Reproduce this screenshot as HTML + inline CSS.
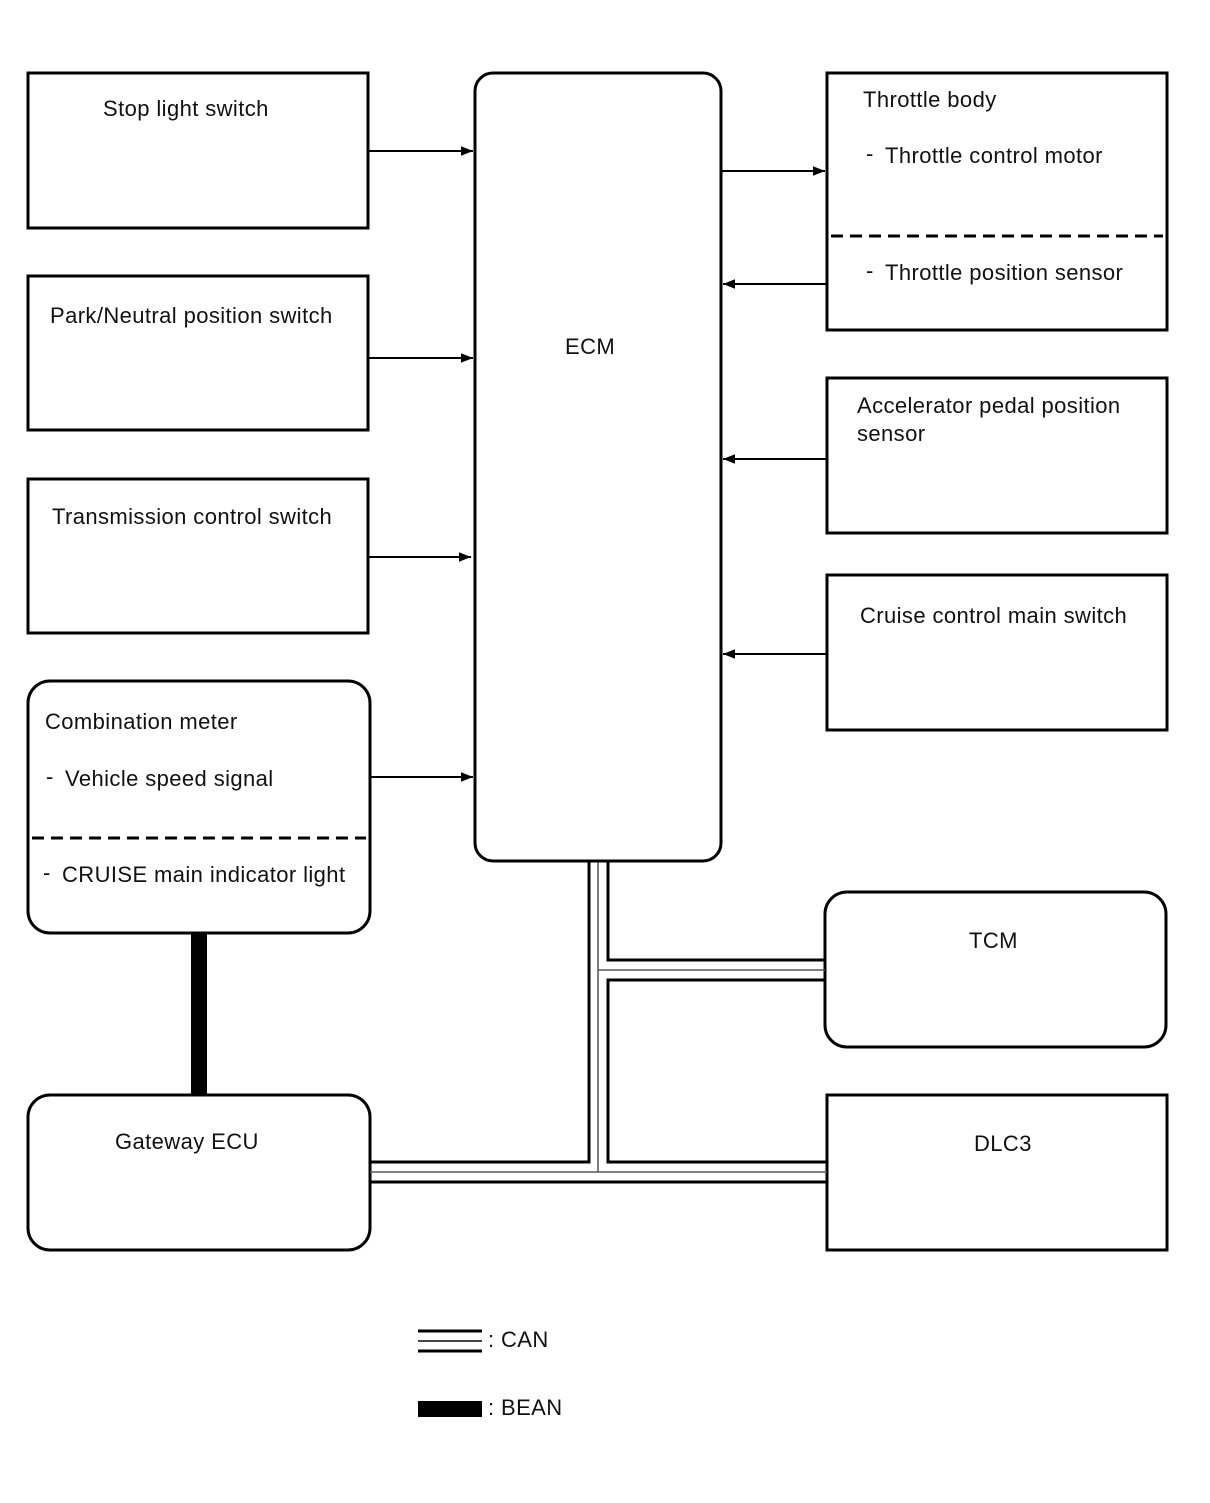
<!DOCTYPE html>
<html><head><meta charset="utf-8"><style>
body{margin:0;background:#fff;}
svg text{font-family:"Liberation Sans",Arial,sans-serif;font-size:22px;letter-spacing:0.4px;fill:#111;}
</style></head><body>
<svg width="1210" height="1498" viewBox="0 0 1210 1498" xmlns="http://www.w3.org/2000/svg">
<defs><marker id="a" viewBox="0 0 10 10" refX="10" refY="5" markerWidth="24" markerHeight="12" markerUnits="userSpaceOnUse" orient="auto"><path d="M0,1 L10,5 L0,9 z" fill="#000"/></marker></defs>
<g fill="none" stroke="#000" stroke-width="3">
<rect x="28" y="73" width="340" height="155"/>
<rect x="28" y="276" width="340" height="154"/>
<rect x="28" y="479" width="340" height="154"/>
<rect x="28" y="681" width="342" height="252" rx="22"/>
<rect x="28" y="1095" width="342" height="155" rx="22"/>
<rect x="475" y="73" width="246" height="788" rx="18"/>
<rect x="827" y="73" width="340" height="257"/>
<rect x="827" y="378" width="340" height="155"/>
<rect x="827" y="575" width="340" height="155"/>
<rect x="825" y="892" width="341" height="155" rx="22"/>
<rect x="827" y="1095" width="340" height="155"/>
<line x1="32" y1="838" x2="366" y2="838" stroke-dasharray="12,7"/>
<line x1="831" y1="236" x2="1163" y2="236" stroke-dasharray="12,7"/>
</g>
<g stroke="#000" stroke-width="2" fill="none">
<line x1="368" y1="151" x2="473" y2="151" marker-end="url(#a)"/>
<line x1="368" y1="358" x2="473" y2="358" marker-end="url(#a)"/>
<line x1="368" y1="557" x2="471" y2="557" marker-end="url(#a)"/>
<line x1="370" y1="777" x2="473" y2="777" marker-end="url(#a)"/>
<line x1="721" y1="171" x2="825" y2="171" marker-end="url(#a)"/>
<line x1="827" y1="284" x2="723" y2="284" marker-end="url(#a)"/>
<line x1="827" y1="459" x2="723" y2="459" marker-end="url(#a)"/>
<line x1="827" y1="654" x2="723" y2="654" marker-end="url(#a)"/>
</g>
<rect x="191" y="933" width="16" height="162" fill="#000"/>
<g fill="none" stroke="#000" stroke-width="3">
<polyline points="589,862 589,1162 370,1162"/>
<polyline points="608,862 608,960 825,960"/>
<polyline points="826,980 608,980 608,1162 827,1162"/>
<line x1="370" y1="1182" x2="827" y2="1182"/>
</g>
<g fill="none" stroke="#555" stroke-width="1.5">
<line x1="598" y1="862" x2="598" y2="1172"/>
<line x1="598" y1="970" x2="825" y2="970"/>
<line x1="370" y1="1172" x2="827" y2="1172"/>
</g>
<g stroke="#000" stroke-width="3"><line x1="418" y1="1331" x2="482" y2="1331"/><line x1="418" y1="1351" x2="482" y2="1351"/></g>
<line x1="418" y1="1341" x2="482" y2="1341" stroke="#444" stroke-width="2"/>
<rect x="418" y="1401" width="64" height="16" fill="#000"/>
<text x="103" y="116">Stop light switch</text>
<text x="50" y="323">Park/Neutral position switch</text>
<text x="52" y="524">Transmission control switch</text>
<text x="45" y="729">Combination meter</text>
<text x="46" y="784">-</text><text x="65" y="786">Vehicle speed signal</text>
<text x="43" y="880">-</text><text x="62" y="882">CRUISE main indicator light</text>
<text x="115" y="1149">Gateway ECU</text>
<text x="565" y="354">ECM</text>
<text x="863" y="107">Throttle body</text>
<text x="866" y="161">-</text><text x="885" y="163">Throttle control motor</text>
<text x="866" y="278">-</text><text x="885" y="280">Throttle position sensor</text>
<text x="857" y="413">Accelerator pedal position</text>
<text x="857" y="441">sensor</text>
<text x="860" y="623">Cruise control main switch</text>
<text x="969" y="948">TCM</text>
<text x="974" y="1151">DLC3</text>
<text x="488" y="1347">: CAN</text>
<text x="488" y="1415">: BEAN</text>
</svg>
</body></html>
